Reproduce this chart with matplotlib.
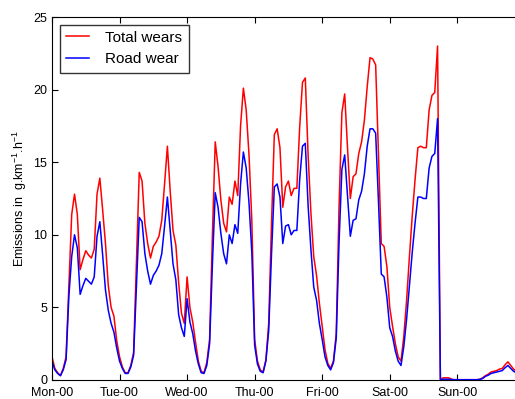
import numpy as np
import matplotlib
matplotlib.use("Agg")
import matplotlib.pyplot as plt

plt.rcParams["font.family"] = ["Liberation Sans", "DejaVu Sans"]
plt.rcParams["mathtext.fontset"] = "custom"
plt.rcParams["mathtext.rm"] = "Liberation Sans"
plt.rcParams["mathtext.it"] = "Liberation Sans:italic"

# hourly values, Monday 00h -> Sunday 23h
total_mon = [1.6, 0.8, 0.5, 0.3, 0.8, 1.6, 6.5, 11.4, 12.8, 11.4, 7.6, 8.3,
             8.9, 8.6, 8.4, 9.0, 12.8, 13.9, 11.7, 9.4, 6.5, 5.0, 4.4, 2.7]
total_tue = [1.6, 0.9, 0.5, 0.5, 1.0, 1.9, 8.0, 14.3, 13.7, 10.8, 9.4, 8.4,
             9.2, 9.5, 9.9, 11.0, 13.5, 16.1, 13.0, 10.3, 9.3, 6.7, 4.6, 3.9]
total_wed = [7.1, 5.0, 4.0, 2.6, 1.3, 0.6, 0.5, 1.2, 2.8, 10.0, 16.4, 14.7,
             12.4, 10.8, 10.2, 12.6, 12.1, 13.7, 12.7, 17.5, 20.1, 18.6, 15.5, 11.0]
total_thu = [2.8, 1.3, 0.7, 0.55, 1.4, 3.9, 10.8, 16.9, 17.3, 16.0, 11.9, 13.3,
             13.7, 12.7, 13.2, 13.2, 17.4, 20.5, 20.8, 15.5, 11.5, 8.5, 7.2, 5.3]
total_fri = [3.7, 2.1, 1.15, 0.8, 1.3, 3.2, 12.0, 18.4, 19.7, 16.0, 12.5, 14.0,
             14.2, 15.6, 16.4, 17.9, 20.2, 22.2, 22.1, 21.7, 15.5, 9.4, 9.2, 7.8]
total_sat = [5.0, 3.7, 2.5, 1.6, 1.3, 3.0, 5.5, 8.5, 11.3, 13.8, 16.0, 16.1,
             16.0, 16.0, 18.6, 19.6, 19.8, 23.0, 0.05, 0.15, 0.15, 0.15, 0.05, 0.02]
total_sun = [0.02, 0.02, 0.02, 0.02, 0.02, 0.02, 0.02, 0.02, 0.05, 0.15, 0.3, 0.4,
             0.55, 0.6, 0.65, 0.75, 0.8, 1.05, 1.25, 1.0, 0.75, 0.6, 0.5, 0.4]

road_mon = [1.3, 0.7, 0.45, 0.3, 0.7, 1.4, 5.8, 8.5, 10.0, 9.1, 5.9, 6.5,
            7.0, 6.8, 6.6, 7.1, 9.9, 10.9, 8.6, 6.2, 4.8, 3.9, 3.3, 2.2]
road_tue = [1.3, 0.8, 0.45, 0.45, 0.9, 1.7, 6.5, 11.2, 10.9, 8.7, 7.5, 6.6,
            7.2, 7.5, 7.9, 8.7, 10.6, 12.6, 10.3, 8.0, 6.9, 4.5, 3.6, 3.0]
road_wed = [5.6, 4.0, 3.2, 2.0, 1.1, 0.5, 0.45, 1.0, 2.5, 8.0, 12.9, 11.9,
            10.1, 8.7, 8.0, 10.0, 9.4, 10.7, 10.1, 13.5, 15.7, 14.6, 12.2, 8.8]
road_thu = [2.4, 1.1, 0.6, 0.5, 1.3, 3.4, 8.7, 13.3, 13.5, 12.6, 9.4, 10.6,
            10.7, 10.0, 10.3, 10.3, 13.8, 16.1, 16.3, 12.0, 9.0, 6.4, 5.5, 3.9]
road_fri = [2.8, 1.6, 1.0, 0.7, 1.2, 2.9, 9.5, 14.5, 15.5, 12.7, 9.9, 11.0,
            11.1, 12.4, 13.0, 14.2, 16.1, 17.3, 17.3, 17.0, 12.3, 7.3, 7.1, 5.7]
road_sat = [3.6, 3.0, 2.0, 1.3, 1.0, 2.3, 4.2, 6.5, 8.8, 10.8, 12.6, 12.6,
            12.5, 12.5, 14.6, 15.4, 15.6, 18.0, 0.02, 0.05, 0.05, 0.05, 0.03, 0.02]
road_sun = [0.02, 0.02, 0.02, 0.02, 0.02, 0.02, 0.02, 0.02, 0.04, 0.1, 0.25, 0.33,
            0.45, 0.5, 0.55, 0.6, 0.65, 0.85, 1.0, 0.8, 0.6, 0.5, 0.4, 0.3]

day_labels = ["Mon-00", "Tue-00", "Wed-00", "Thu-00", "Fri-00", "Sat-00", "Sun-00"]

total = np.concatenate([total_mon, total_tue, total_wed, total_thu,
                        total_fri, total_sat, total_sun])
road = np.concatenate([road_mon, road_tue, road_wed, road_thu,
                       road_fri, road_sat, road_sun])
hours = np.arange(len(total))

fig = plt.figure(figsize=(5.15, 3.99), dpi=100)
# axes runs past the right edge of the picture, as in the reference crop
ax = fig.add_axes([52 / 515, 19 / 399, 470 / 515, 363 / 399])

ax.plot(hours, total, color="red", lw=1.1, label="Total wears")
ax.plot(hours, road, color="blue", lw=1.1, label="Road wear")

ax.set_xlim(0, 167)
ax.set_ylim(0, 25)
ax.set_xticks(np.arange(0, 168, 24))
ax.set_xticklabels(day_labels)
ax.set_yticks([0, 5, 10, 15, 20, 25])
ax.tick_params(direction="in", top=True, right=True, length=4, labelsize=9)
ax.tick_params(axis="x", pad=5)
ax.set_ylabel("Emissions in  g.km$^{-1}$.h$^{-1}$", fontsize=9, labelpad=3)

leg = ax.legend(loc="upper left", fontsize=11, fancybox=False,
                handlelength=1.5, handletextpad=1.1, borderaxespad=0.5)
leg.get_frame().set_edgecolor("black")
leg.get_frame().set_linewidth(1.0)

fig.savefig("out.png", dpi=100)
